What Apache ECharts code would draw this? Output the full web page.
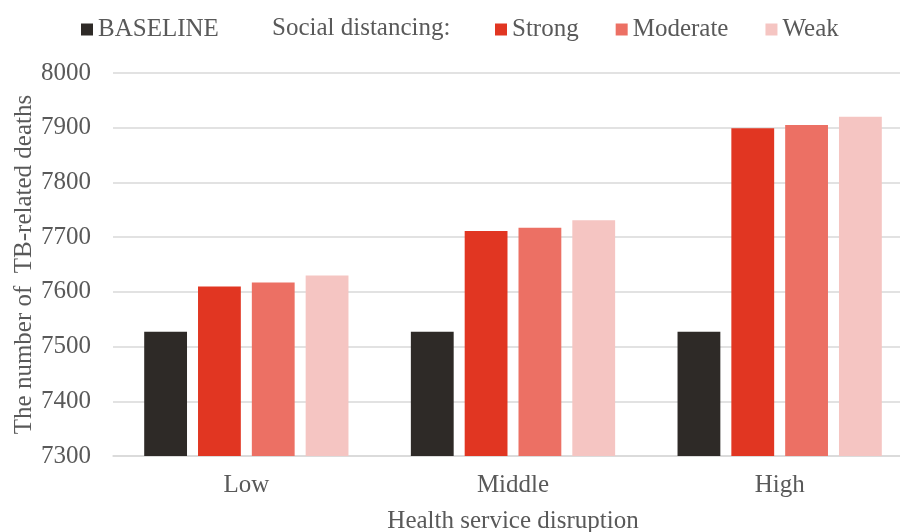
<!DOCTYPE html>
<html>
<head>
<meta charset="utf-8">
<script src="https://cdn.jsdelivr.net/npm/echarts@6/dist/echarts.min.js"></script>
<style>
  html, body { margin: 0; padding: 0; background: #ffffff; }
  #chart { width: 900px; height: 532px; }
</style>
</head>
<body>
<div id="chart"></div>
<script>
// Health service disruption levels (x axis)
const categories = ['Low', 'Middle', 'High'];

// TB-related deaths per scenario
const baseline = [7527, 7527, 7527];
const strong   = [7610, 7711, 7899];
const moderate = [7617, 7717, 7905];
const weak     = [7630, 7731, 7920];

// y axis range
const yMin = 7300;
const yMax = 8000;
const yStep = 100;

const FONT = '"Liberation Serif", "Times New Roman", serif';
const TEXT = '#595959';
const FS = 25;

const chart = echarts.init(document.getElementById('chart'), null, { renderer: 'canvas' });

const barDefaults = {
  type: 'bar',
  barGap: '25.7%',
  barCategoryGap: '23.4%'
};

chart.setOption({
  animation: false,
  backgroundColor: '#ffffff',
  textStyle: { fontFamily: FONT },
  // plot area runs past the right edge of the canvas
  grid: { left: 113, width: 800, top: 73, bottom: 76, outerBoundsMode: 'none', containLabel: false },
  legend: [
    {
      data: ['BASELINE'],
      left: 76,
      top: 12,
      itemWidth: 12,
      itemHeight: 12,
      itemGap: 35,
      icon: 'rect',
      textStyle: { fontFamily: FONT, fontSize: FS, color: TEXT }
    },
    {
      data: ['Strong', 'Moderate', 'Weak'],
      left: 490,
      top: 12,
      itemWidth: 12,
      itemHeight: 12,
      itemGap: 37,
      icon: 'rect',
      textStyle: { fontFamily: FONT, fontSize: FS, color: TEXT }
    }
  ],
  graphic: [
    {
      type: 'text',
      left: 272,
      top: 16,
      style: {
        text: 'Social distancing:',
        font: FS + 'px ' + FONT,
        fill: TEXT
      }
    }
  ],
  xAxis: {
    type: 'category',
    data: categories,
    name: 'Health service disruption',
    nameLocation: 'middle',
    nameGap: 53,
    nameMoveOverlap: false,
    nameTextStyle: { fontFamily: FONT, fontSize: FS, color: TEXT },
    axisLine: { show: true, lineStyle: { color: '#d9d9d9', width: 1.5 } },
    axisTick: { show: false },
    axisLabel: { fontFamily: FONT, fontSize: FS, color: TEXT, margin: 17 }
  },
  yAxis: {
    type: 'value',
    min: yMin,
    max: yMax,
    interval: yStep,
    name: 'The number of  TB-related deaths',
    nameLocation: 'middle',
    nameGap: 76,
    nameMoveOverlap: false,
    nameTextStyle: { fontFamily: FONT, fontSize: FS, color: TEXT },
    axisLine: { show: false },
    axisTick: { show: false },
    splitLine: { lineStyle: { color: '#d9d9d9', width: 1.5 } },
    axisLabel: { fontFamily: FONT, fontSize: FS, color: TEXT, margin: 22, formatter: v => String(v) }
  },
  series: [
    Object.assign({}, barDefaults, { name: 'BASELINE', data: baseline, itemStyle: { color: '#2e2a27' } }),
    Object.assign({}, barDefaults, { name: 'Strong',   data: strong,   itemStyle: { color: '#e13622' } }),
    Object.assign({}, barDefaults, { name: 'Moderate', data: moderate, itemStyle: { color: '#ec7064' } }),
    Object.assign({}, barDefaults, { name: 'Weak',     data: weak,     itemStyle: { color: '#f5c5c2' } })
  ]
});
</script>
</body>
</html>
